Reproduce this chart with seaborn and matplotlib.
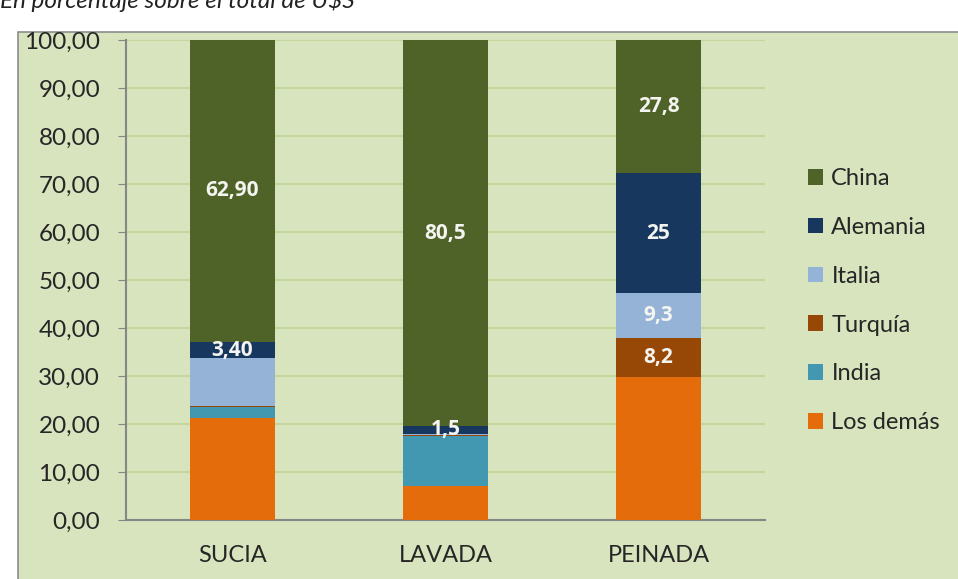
import matplotlib.pyplot as plt
import seaborn as sns
import numpy as np
import pandas as pd
from matplotlib.patches import Rectangle, Patch

categories = ['SUCIA', 'LAVADA', 'PEINADA']
series = ['Los demás', 'India', 'Turquía', 'Italia', 'Alemania', 'China']
los_demas = [21.3, 7.1, 29.7]
india = [2.2, 10.3, 0.0]
turquia = [0.3, 0.3, 8.2]
italia = [9.9, 0.3, 9.3]
alemania = [3.4, 1.5, 25.0]
china = [62.9, 80.5, 27.8]
labels = {
    'Turquía': ['', '', '8,2'],
    'Italia': ['', '', '9,3'],
    'Alemania': ['3,40', '1,5', '25'],
    'China': ['62,90', '80,5', '27,8'],
}
colors = {
    'China': '#4F6228',
    'Alemania': '#17375E',
    'Italia': '#95B3D7',
    'Turquía': '#974806',
    'India': '#4198B0',
    'Los demás': '#E46C0A',
}

values = [los_demas, india, turquia, italia, alemania, china]
df = pd.DataFrame(dict(zip(series, values)), index=categories)
cum = df.cumsum(axis=1)

sns.set_style('white')
plt.rcParams['font.family'] = ['Lato', 'DejaVu Sans']

fig = plt.figure(figsize=(9.58, 5.79), dpi=100)
fig.patches.append(Rectangle((18 / 958, -0.01), 1, 1 - 32 / 579 + 0.01, transform=fig.transFigure,
                             facecolor='#D7E4BD', edgecolor='#8C8C8C', linewidth=1.2, zorder=-5))
fig.text(0.0, 1.0, 'En porcentaje sobre el total de U$S', fontsize=17.5, style='italic',
         ha='left', va='center', color='#222222')

ax = fig.add_axes([126 / 958, 1 - 520 / 579, (765 - 126) / 958, (520 - 40) / 579])
ax.set_facecolor('none')

# draw cumulative totals from the top layer down
for name in reversed(series):
    d = pd.DataFrame({'cat': categories, 'val': cum[name].values})
    sns.barplot(data=d, x='cat', y='val', color=colors[name], width=0.4,
                linewidth=0, saturation=1, ax=ax, zorder=3)

for name, labs in labels.items():
    mid = cum[name] - df[name] / 2
    for i, lab in enumerate(labs):
        if lab:
            ax.text(i, mid.iloc[i], lab, ha='center', va='center', color='#F4F4F0',
                    fontsize=15, fontweight='bold', family=['Open Sans', 'DejaVu Sans'], zorder=5)

ax.set_xlim(-0.5, 2.5)
ax.set_ylim(0, 100)
ax.set_yticks(np.arange(0, 101, 10))
ax.set_yticklabels([f'{v:.2f}'.replace('.', ',') for v in range(0, 101, 10)], fontsize=17.5)
ax.set_xticks([0, 1, 2])
ax.set_xticklabels(categories, fontsize=17)
ax.set_xticks([-0.5, 0.5, 1.5, 2.5], minor=True)
ax.tick_params(axis='x', which='major', length=0, pad=18)
ax.tick_params(axis='x', which='minor', length=5.5, color='#868686', direction='out')
ax.tick_params(axis='y', length=5.5, color='#868686', direction='out', left=True, pad=13)
ax.set_xlabel('')
ax.set_ylabel('')
ax.grid(axis='y', color='#C3D69B', linewidth=1.5, zorder=1)
ax.set_axisbelow(True)
for s in ['top', 'right']:
    ax.spines[s].set_visible(False)
for s in ['left', 'bottom']:
    ax.spines[s].set_color('#868686')
    ax.spines[s].set_linewidth(1.5)

handles = [Patch(facecolor=colors[n], edgecolor='none') for n in reversed(series)]
fig.legend(handles, list(reversed(series)), loc='upper left', bbox_to_anchor=(808 / 958, 1 - 168 / 579),
           frameon=False, fontsize=17, handlelength=0.64, handleheight=0.64, handletextpad=0.35,
           labelspacing=1.18, borderpad=0, borderaxespad=0)

plt.savefig('out.png', dpi=100)
plt.close()
